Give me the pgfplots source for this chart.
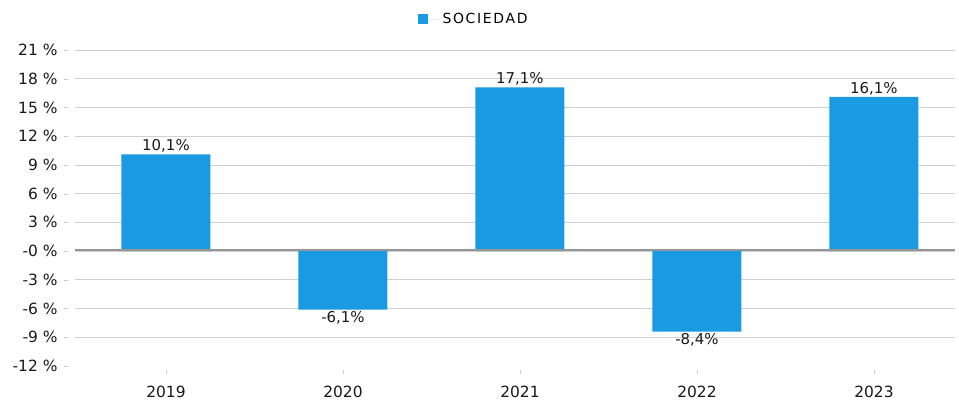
\documentclass[border=0pt]{standalone}
\usepackage{pgfplots}
\pgfplotsset{compat=1.18}
\usepackage{fontspec}
\setmainfont{DejaVu Sans}
\definecolor{barblue}{RGB}{26,154,224}
\definecolor{gridgray}{RGB}{208,208,208}
\definecolor{zerogray}{RGB}{150,150,150}

\begin{document}
\begin{tikzpicture}
\useasboundingbox (-75bp,-37bp) rectangle (884bp,366bp);
\begin{axis}[
    at={(0,0)}, anchor=south west,
    scale only axis,
    width=880bp, height=316bp,
    xmin=-0.514, xmax=4.458,
    ymin=-12, ymax=21,
    axis line style={draw=none},
    /pgf/number format/assume math mode=true,
    ybar, bar width=89bp, bar shift=0pt,
    xtick={0,1,2,3,4},
    xticklabels={2019,2020,2021,2022,2023},
    ytick={-9,-6,...,21},
    yticklabels={-9 \%,-6 \%,-3 \%,-0 \%,3 \%,6 \%,9 \%,12 \%,15 \%,18 \%,21 \%},
    extra y ticks={-12},
    extra y tick labels={-12 \%},
    extra y tick style={grid=none},
    ymajorgrids,
    grid style={gridgray, line width=0.8bp},
    tick align=outside,
    tick pos=left,
    major tick length=4bp,
    y tick style={gray!40, xshift=-7bp},
    x tick style={gray!40, yshift=-4bp},
    ticklabel style={font=\fontsize{15.5}{18}\selectfont, text=black!90},
    yticklabel style={xshift=-10bp},
    xticklabel style={yshift=-13bp},
    nodes near coords={\pgfmathprintnumber[fixed,fixed zerofill,precision=1,use comma]{\pgfplotspointmeta}\%},
    every node near coord/.append style={font=\fontsize{15}{17}\selectfont, text=black!90, inner sep=1.5bp},
    legend style={at={(rel axis cs:0.389,1.098)}, anchor=west, draw=none, fill=none,
        font=\fontsize{14}{16}\selectfont\addfontfeatures{LetterSpace=12}, inner sep=0pt},
    legend image code/.code={\fill[barblue] (0bp,-5bp) rectangle (10bp,5bp); \path (0bp,0bp) -- (23bp,0bp);},
]
\addplot[fill=barblue, draw=none] coordinates {
    (0,10.1) (1,-6.1) (2,17.1) (3,-8.4) (4,16.1)
};
\addlegendentry{SOCIEDAD}
\draw[zerogray, line width=1.4bp] (axis cs:-0.514,0.12) -- (axis cs:4.458,0.12);
\end{axis}
\end{tikzpicture}
\end{document}
